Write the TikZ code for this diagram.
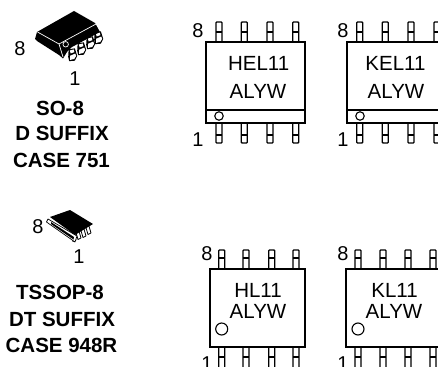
\documentclass[tikz,border=0pt]{standalone}
\usepackage{fontspec}
\setmainfont{Liberation Sans}
\newcommand{\pinpair}[4]{% x, ytop, ybottom, ycross
  \draw[pinline,rounded corners=0.8pt] (#1-3,#3) -- (#1-3,#2) -- (#1+3,#2) -- (#1+3,#3);
  \draw[pinline] (#1-3,#4) -- (#1+3,#4);
}
\newcommand{\pinbot}[4]{%
  \draw[pinline,rounded corners=0.8pt] (#1-3,#2) -- (#1-3,#3) -- (#1+3,#3) -- (#1+3,#2);
  \draw[pinline] (#1-3,#4) -- (#1+3,#4);
}
\newcommand{\gull}[2]{% small pin of the SO-8 package
  \begin{scope}[shift={(#1,#2)},scale=0.95]
    \fill[black] (-3.5,-6) -- (3,-7) -- (5.5,1) -- (3,6) -- (-3,6.5) -- (-4,2) -- cycle;
    \fill[white] (-2,0.8) -- (3.4,-1.5) -- (4.4,1) -- (2.3,4.2) -- (-2,5.2) -- cycle;
    \fill[white] (-2.2,-4.8) -- (1.8,-5.8) -- (2.5,-3) -- (-1.5,-1.6) -- cycle;
  \end{scope}
}
\newcommand{\tinypin}[2]{%
  \draw[black,fill=white,line width=0.8pt,line join=round] (#1,#2) -- (#1+3,#2-1.5) -- (#1+5.5,#2+7) -- (#1+2.5,#2+8.5) -- cycle;
}
\tikzset{
  pinline/.style={line width=1.3pt,black},
  chipbox/.style={draw=black,line width=2pt,fill=white},
  marktext/.style={font=\fontsize{20.5}{22}\selectfont,text=black,inner sep=0pt},
  pinnum/.style={font=\fontsize{20}{22}\selectfont,text=black,inner sep=0pt},
  caselabel/.style={font=\fontsize{20.5}{22}\selectfont\bfseries,text=black,inner sep=0pt},
  dotmark/.style={draw=black,line width=1.1pt,fill=white,circle,inner sep=0pt},
}
\begin{document}
\begin{tikzpicture}[x=1pt,y=-1pt]
\useasboundingbox (0,0) rectangle (438,366);
\clip (0,0) rectangle (438,366);
\fill[white] (0,0) rectangle (438,366);

% SO-8 package
\gull{98}{38}
\gull{90}{43}
\gull{81}{49}
\gull{72}{55}
\fill[black] (35,39) -- (37,32) -- (74,11) -- (95,23) -- (100,32) -- (72,47) -- (67,52) -- (63,58.5) -- (59,55) -- (37,41) -- cycle;
\draw[white,line width=0.7pt] (59,44) -- (97,23.5);
\draw[white,line width=0.7pt] (37.5,32) -- (59,44) -- (63,57);
\node[dotmark,minimum size=5.5pt,line width=0.7pt,draw=white,fill=black] (somark) at (65.7,44.3) {};
\node[pinnum] (so8) at (20,49) {8};
\node[pinnum] (so1) at (75,79) {1};
\node[caselabel] (sol1) at (60,108) {SO-8};
\node[caselabel] (sol2) at (62,133) {D SUFFIX};
\node[caselabel] (sol3) at (61.5,160) {CASE 751};

% TSSOP-8 package
\tinypin{85.5}{226}\tinypin{80.5}{229}\tinypin{75.5}{231}\tinypin{70.5}{233}
\draw[black,fill=white,line width=0.7pt,line join=round] (48,219) -- (46.5,222) -- (75,242) -- (77,236) -- cycle;
\fill[black] (50,217) -- (70,210) -- (93,224) -- (75,235) -- cycle;
\fill[black] (51,222) -- (74,237) -- (73.5,239.5) -- (51,224) -- cycle;
\node[pinnum] (ts8) at (38,227) {8};
\node[pinnum] (ts1) at (79,257) {1};
\node[caselabel] (tsl1) at (60,292) {TSSOP-8};
\node[caselabel] (tsl2) at (62,319) {DT SUFFIX};
\node[caselabel] (tsl3) at (61.5,345) {CASE 948R};

% HEL11
\foreach \x in {219,244.3,270,295.7}{\pinpair{\x}{22}{42}{32}\pinbot{\x}{123}{143}{135}}
\draw[chipbox] (206,42) rectangle (305,123);
\draw[black,line width=2pt] (206,110) -- (305,110);
\node[dotmark,minimum size=8.5pt] (m1) at (219,116) {};
\node[marktext] (t1) at (258.7,63) {HEL11};
\node[marktext] (t1b) at (258,91) {ALYW};
\node[pinnum] (a8) at (198,31) {8};
\node[pinnum] (a1) at (198,140) {1};

% KEL11
\foreach \x in {359.7,385.3,411,437}{\pinpair{\x}{22}{42}{32}\pinbot{\x}{123}{143}{135}}
\draw[chipbox] (347,42) rectangle (446,123);
\draw[black,line width=2pt] (347,110) -- (446,110);
\node[dotmark,minimum size=8.5pt] (m2) at (360,116) {};
\node[marktext] (t2) at (395.5,63) {KEL11};
\node[marktext] (t2b) at (396,91) {ALYW};
\node[pinnum] (b8) at (343,31) {8};
\node[pinnum] (b1) at (343,140) {1};

% HL11
\foreach \x in {221.7,246,271.7,296}{\pinpair{\x}{250}{269}{258}\pinbot{\x}{347}{370}{357}}
\draw[chipbox] (210,269) rectangle (305,347);
\node[dotmark,minimum size=12pt] (m3) at (221.7,329) {};
\node[marktext] (t3) at (258,290) {HL11};
\node[marktext] (t3b) at (258,311) {ALYW};
\node[pinnum] (c8) at (207,254) {8};
\node[pinnum] (c1) at (207,364) {1};

% KL11
\foreach \x in {358,383,408,433}{\pinpair{\x}{250}{269}{258}\pinbot{\x}{347}{370}{357}}
\draw[chipbox] (346,269) rectangle (441,347);
\node[dotmark,minimum size=12pt] (m4) at (358,329) {};
\node[marktext] (t4) at (394.5,290) {KL11};
\node[marktext] (t4b) at (394,311) {ALYW};
\node[pinnum] (d8) at (343,254) {8};
\node[pinnum] (d1) at (343,364) {1};
\end{tikzpicture}
\end{document}
